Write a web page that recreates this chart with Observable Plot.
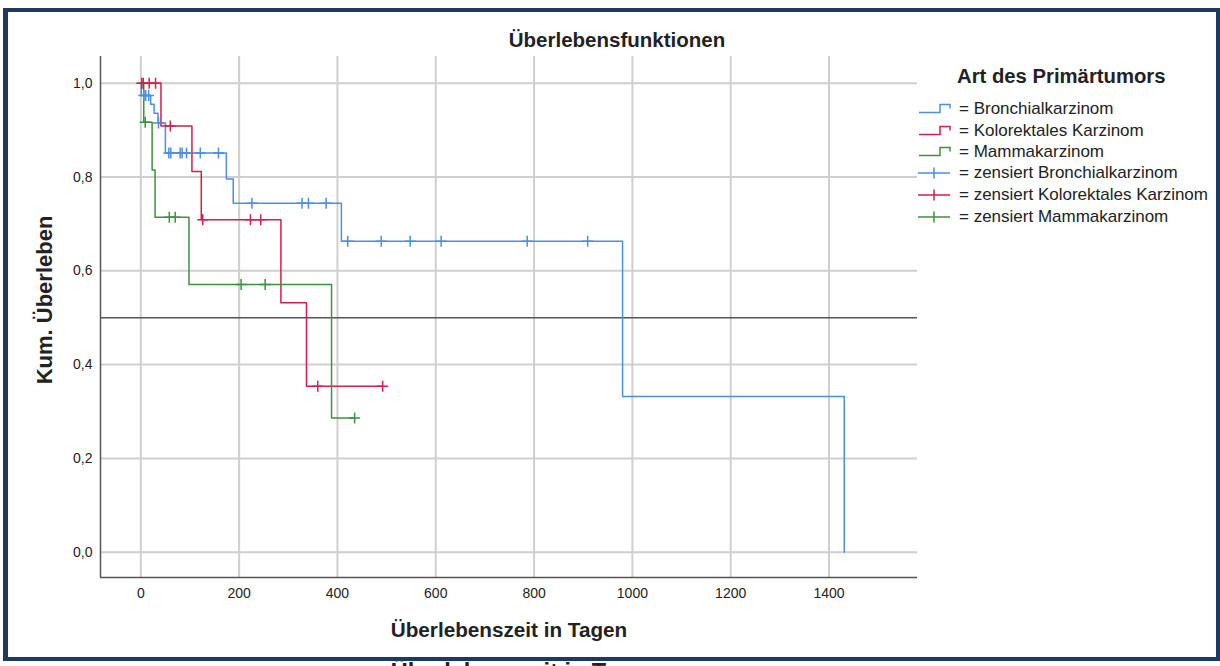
<!DOCTYPE html>
<html><head><meta charset="utf-8">
<script src="https://cdn.jsdelivr.net/npm/d3@7"></script>
<script src="https://cdn.jsdelivr.net/npm/@observablehq/plot@0.6"></script>
<style>
body{margin:0;background:#fff;font-family:"Liberation Sans",Arial,sans-serif;color:#222}
#wrap{position:relative;width:1220px;height:666px;overflow:hidden;background:#fff}
#wrap svg.plot{position:absolute;left:0;top:0}
.frame{position:absolute;left:3px;top:8px;width:1208px;height:645px;border-style:solid;border-color:#1f3a60;border-width:4px 4px 4px 5px;pointer-events:none}
.txt{position:absolute;white-space:nowrap;line-height:1}
#title{left:617px;top:40px;transform:translate(-50%,-50%);font-weight:bold;font-size:20.5px}
#xlab{left:509px;top:630px;transform:translate(-50%,-50%);font-weight:bold;font-size:20.7px}
#ylab{left:45px;top:300px;transform:translate(-50%,-50%) rotate(-90deg);font-weight:bold;font-size:22px}
#ghost{left:525px;top:661px;transform:translateX(-50%);font-weight:bold;font-size:23.5px;color:#222}
.ltitle{position:absolute;left:957px;top:76px;transform:translateY(-50%);font-weight:bold;font-size:20.3px;white-space:nowrap}
.litem{position:absolute;left:918px;height:20px;transform:translateY(-50%);white-space:nowrap;font-size:17px;display:flex;align-items:center}
.litem svg{width:34px;height:20px;margin-right:7px}
</style></head><body><div id="wrap"></div>
<script>
// Kategorien
const groups = ["Bronchialkarzinom", "Kolorektales Karzinom", "Mammakarzinom"];
const colors = ["#4a8fe0", "#d41f4a", "#3d9140"];

// Stufenfunktionen (Tage, kumulatives Überleben)
const bronchialTage = [0, 1, 20, 27, 35, 50, 174, 188, 408, 980, 1431];
const bronchialSurv = [1, 0.974, 0.955, 0.936, 0.915, 0.851, 0.796, 0.744, 0.663, 0.332, 0];
const kolorektalTage = [0, 41, 104, 123, 285, 337, 492];
const kolorektalSurv = [1, 0.909, 0.812, 0.709, 0.532, 0.354, 0.354];
const mammaTage = [0, 6, 23, 29, 98, 388, 435];
const mammaSurv = [1, 0.917, 0.815, 0.714, 0.571, 0.286, 0.286];

// Zensierte Fälle
const bronchialZensTage = [6, 10, 16, 36, 57, 61, 80, 84, 93, 121, 158, 226, 328, 341, 377, 421, 489, 548, 611, 786, 909];
const bronchialZensSurv = [0.974, 0.974, 0.974, 0.915, 0.851, 0.851, 0.851, 0.851, 0.851, 0.851, 0.851, 0.744, 0.744, 0.744, 0.744, 0.663, 0.663, 0.663, 0.663, 0.663, 0.663];
const kolorektalZensTage = [2, 5, 17, 30, 60, 126, 223, 244, 360, 492];
const kolorektalZensSurv = [1, 1, 1, 1, 0.909, 0.709, 0.709, 0.709, 0.354, 0.354];
const mammaZensTage = [9, 58, 70, 204, 253, 435];
const mammaZensSurv = [0.917, 0.714, 0.714, 0.571, 0.571, 0.286];

// Achsen
const xTicks = [0, 200, 400, 600, 800, 1000, 1200, 1400];
const yTicks = [0, 0.2, 0.4, 0.6, 0.8, 1.0];
const xDomain = [-82, 1580];
const yDomain = [-0.054, 1.057];
const refLine = [0.5];

const curves = [
  [bronchialTage, bronchialSurv],
  [kolorektalTage, kolorektalSurv],
  [mammaTage, mammaSurv]
].flatMap(([t, s], gi) => t.map((d, i) => ({group: groups[gi], t: d, s: s[i]})));

const censored = [
  [bronchialZensTage, bronchialZensSurv],
  [kolorektalZensTage, kolorektalZensSurv],
  [mammaZensTage, mammaZensSurv]
].flatMap(([t, s], gi) => t.map((d, i) => ({group: groups[gi], t: d, s: s[i]})));

const cross = {
  draw(ctx, size) {
    const r = Math.sqrt(size / Math.PI);
    ctx.moveTo(-r, 0); ctx.lineTo(r, 0);
    ctx.moveTo(0, -r); ctx.lineTo(0, r);
  }
};

const fmt = d => d.toFixed(1).replace(".", ",");

const chart = Plot.plot({
  width: 1220,
  height: 666,
  marginLeft: 100,
  marginRight: 303,
  marginTop: 56,
  marginBottom: 89,
  style: {fontSize: "14px", fontFamily: "'Liberation Sans', Arial, sans-serif", color: "#222", background: "transparent"},
  x: {domain: xDomain, ticks: xTicks, tickSize: 0, tickPadding: 11, label: null, tickFormat: d => String(d)},
  y: {domain: yDomain, ticks: yTicks, tickSize: 0, tickPadding: 8, label: null, tickFormat: fmt},
  color: {domain: groups, range: colors},
  marks: [
    Plot.ruleX(xTicks, {stroke: "#cfcfcf", strokeWidth: 2}),
    Plot.ruleY(yTicks, {stroke: "#cfcfcf", strokeWidth: 2}),
    Plot.ruleY(refLine, {stroke: "#555", strokeWidth: 1.6}),
    Plot.ruleX([xDomain[0]], {stroke: "#555", strokeWidth: 1.5}),
    Plot.ruleY([yDomain[0]], {stroke: "#555", strokeWidth: 1.5}),
    Plot.line(curves, {x: "t", y: "s", z: "group", stroke: "group", curve: "step-after", strokeWidth: 1.5}),
    Plot.dot(censored, {x: "t", y: "s", stroke: "group", symbol: cross, r: 5.5, fill: "none", strokeWidth: 1.5})
  ]
});
chart.classList.add("plot");
const wrap = document.getElementById("wrap");
wrap.appendChild(chart);

function addText(id, text) {
  const d = document.createElement("div");
  d.className = "txt"; d.id = id; d.textContent = text;
  wrap.appendChild(d);
}
addText("ghost", "Überlebenszeit in Tagen");
addText("title", "Überlebensfunktionen");
addText("xlab", "Überlebenszeit in Tagen");
addText("ylab", "Kum. Überleben");

// Legende
const lt = document.createElement("div");
lt.className = "ltitle"; lt.textContent = "Art des Primärtumors";
wrap.appendChild(lt);
const rowsY = [109, 130.5, 151.5, 173, 195, 216.5];
const items = [
  ...groups.map((g, i) => ({label: "= " + g, color: colors[i], kind: "step"})),
  ...groups.map((g, i) => ({label: "= zensiert " + g, color: colors[i], kind: "cross"}))
];
items.forEach((it, i) => {
  const row = document.createElement("div");
  row.className = "litem";
  row.style.top = rowsY[i] + "px";
  const sym = it.kind === "step"
    ? `<svg viewBox="0 0 34 20"><path d="M1 13.5H22V5.5H32V9.5" fill="none" stroke="${it.color}" stroke-width="1.5"/></svg>`
    : `<svg viewBox="0 0 34 20"><path d="M0 10H32M16 4.5V15.5" fill="none" stroke="${it.color}" stroke-width="1.5"/></svg>`;
  row.innerHTML = sym + "<span></span>";
  row.querySelector("span").textContent = it.label;
  wrap.appendChild(row);
});

const fr = document.createElement("div");
fr.className = "frame";
wrap.appendChild(fr);
</script>
</body></html>
